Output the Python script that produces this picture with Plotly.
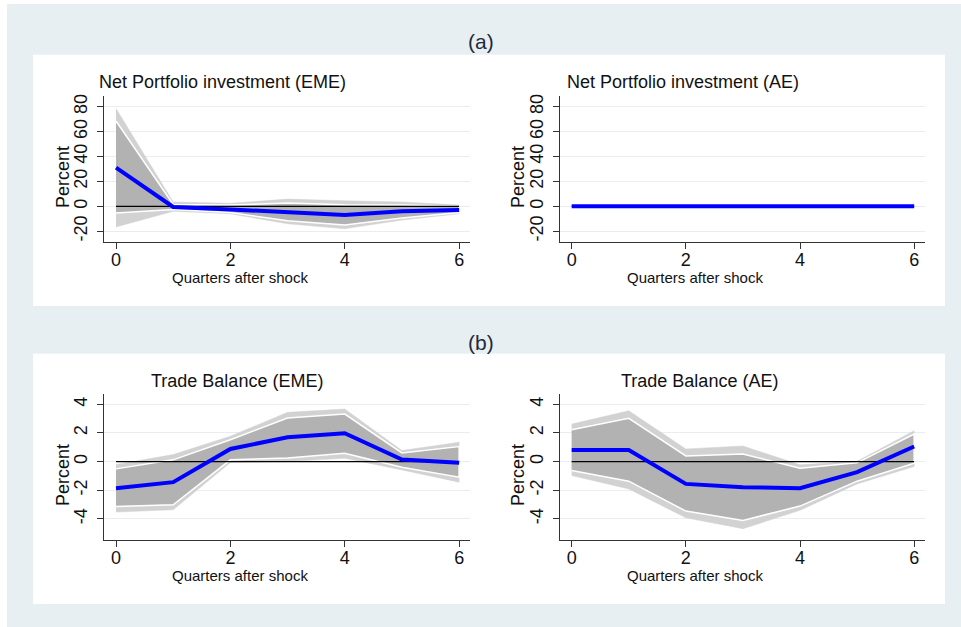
import plotly.graph_objects as go

W, H = 961, 627

quarters = [0, 1, 2, 3, 4, 5, 6]

# Net portfolio investment, emerging market economies
npi_eme_irf = [31.0, -0.5, -2.5, -4.5, -7.0, -4.0, -3.0]
npi_eme_hi_inner = [68.5, 1.5, 1.0, 2.7, 1.3, 1.0, 0.0]
npi_eme_lo_inner = [-5.3, -2.5, -5.0, -11.5, -15.0, -9.3, -5.0]
npi_eme_hi_outer = [78.5, 3.5, 2.5, 5.8, 4.5, 3.5, 1.0]
npi_eme_lo_outer = [-16.5, -4.0, -6.0, -14.0, -18.0, -11.0, -6.0]

# Net portfolio investment, advanced economies
npi_ae_irf = [0.0, 0.0, 0.0, 0.0, 0.0, 0.0, 0.0]
npi_ae_hi_inner = [0.0, 0.0, 0.0, 0.0, 0.0, 0.0, 0.0]
npi_ae_lo_inner = [0.0, 0.0, 0.0, 0.0, 0.0, 0.0, 0.0]
npi_ae_hi_outer = [0.0, 0.0, 0.0, 0.0, 0.0, 0.0, 0.0]
npi_ae_lo_outer = [0.0, 0.0, 0.0, 0.0, 0.0, 0.0, 0.0]

# Trade balance, emerging market economies
tb_eme_irf = [-1.86, -1.44, 0.88, 1.70, 1.98, 0.14, -0.09]
tb_eme_hi_inner = [-0.51, 0.12, 1.53, 3.04, 3.32, 0.60, 1.05]
tb_eme_lo_inner = [-3.14, -3.02, 0.12, 0.25, 0.58, -0.39, -1.09]
tb_eme_hi_outer = [-0.21, 0.49, 1.77, 3.44, 3.67, 0.77, 1.35]
tb_eme_lo_outer = [-3.53, -3.37, -0.07, 0.00, 0.23, -0.58, -1.44]

# Trade balance, advanced economies
tb_ae_irf = [0.81, 0.81, -1.56, -1.79, -1.86, -0.74, 1.05]
tb_ae_hi_inner = [2.23, 3.02, 0.39, 0.53, -0.46, -0.09, 1.93]
tb_ae_lo_inner = [-0.63, -1.37, -3.46, -4.11, -3.11, -1.37, -0.12]
tb_ae_hi_outer = [2.62, 3.55, 0.88, 1.09, -0.23, 0.02, 2.16]
tb_ae_lo_outer = [-0.98, -1.91, -3.93, -4.69, -3.41, -1.56, -0.35]

npi_ticks = [-20, 0, 20, 40, 60, 80]
npi_tick_text = ["-20", "0", "20", "40", "60", "80"]
tb_ticks = [-4, -2, 0, 2, 4]
tb_tick_text = ["-4", "-2", "0", "2", "4"]
x_ticks = [0, 2, 4, 6]
x_tick_text = ["0", "2", "4", "6"]

panel_titles = [
    "Net Portfolio investment (EME)",
    "Net Portfolio investment (AE)",
    "Trade Balance (EME)",
    "Trade Balance (AE)",
]
section_labels = ["(a)", "(b)"]
x_title = "Quarters after shock"
y_title = "Percent"

FONT = "Liberation Sans, Arial, sans-serif"
LIGHT = "#d2d2d2"
DARK = "#b2b2b2"
BLUE = "#0000ff"
GRID = "#e6eef1"
BG = "#e8eff2"


def px_x(p):
    return p / W


def px_y(p):
    return 1 - p / H


# panel geometry in pixels
panels = [
    dict(x=(104.3, 470), y=(94, 241), title_c=222, title_y=80, xt_c=240, yt_x=63,
         yrange=[-28.8, 88.8], yticks=npi_ticks, ytext=npi_tick_text),
    dict(x=(560, 925), y=(94, 241), title_c=683, title_y=80, xt_c=695, yt_x=518,
         yrange=[-28.8, 88.8], yticks=npi_ticks, ytext=npi_tick_text),
    dict(x=(104.3, 470), y=(393, 540), title_c=237, title_y=380, xt_c=240, yt_x=63,
         yrange=[-5.5, 4.74], yticks=tb_ticks, ytext=tb_tick_text),
    dict(x=(560, 925), y=(393, 540), title_c=699, title_y=380, xt_c=695, yt_x=518,
         yrange=[-5.5, 4.74], yticks=tb_ticks, ytext=tb_tick_text),
]

series = [
    (npi_eme_irf, npi_eme_hi_inner, npi_eme_lo_inner, npi_eme_hi_outer, npi_eme_lo_outer),
    (npi_ae_irf, npi_ae_hi_inner, npi_ae_lo_inner, npi_ae_hi_outer, npi_ae_lo_outer),
    (tb_eme_irf, tb_eme_hi_inner, tb_eme_lo_inner, tb_eme_hi_outer, tb_eme_lo_outer),
    (tb_ae_irf, tb_ae_hi_inner, tb_ae_lo_inner, tb_ae_hi_outer, tb_ae_lo_outer),
]

fig = go.Figure()
layout_axes = {}
annotations = []

for i, (p, s) in enumerate(zip(panels, series)):
    n = i + 1
    xa = "x" if n == 1 else f"x{n}"
    ya = "y" if n == 1 else f"y{n}"
    irf, hi_in, lo_in, hi_out, lo_out = s
    poly_x = quarters + quarters[::-1]

    # outer confidence band
    fig.add_trace(go.Scatter(
        x=poly_x, y=hi_out + lo_out[::-1], fill="toself", fillcolor=LIGHT,
        line=dict(color=LIGHT, width=0.5), mode="lines", xaxis=xa, yaxis=ya,
        hoverinfo="skip", showlegend=False))
    # inner confidence band with white outline
    fig.add_trace(go.Scatter(
        x=poly_x, y=hi_in + lo_in[::-1], fill="toself", fillcolor=DARK,
        line=dict(color="white", width=1.5), mode="lines", xaxis=xa, yaxis=ya,
        hoverinfo="skip", showlegend=False))
    # zero reference line
    fig.add_trace(go.Scatter(
        x=[quarters[0], quarters[-1]], y=[0, 0], mode="lines",
        line=dict(color="black", width=1.2), xaxis=xa, yaxis=ya,
        hoverinfo="skip", showlegend=False))
    # impulse response
    fig.add_trace(go.Scatter(
        x=quarters, y=irf, mode="lines", line=dict(color=BLUE, width=4),
        xaxis=xa, yaxis=ya, hoverinfo="skip", showlegend=False))

    xkey = "xaxis" if n == 1 else f"xaxis{n}"
    ykey = "yaxis" if n == 1 else f"yaxis{n}"
    layout_axes[xkey] = dict(
        domain=[px_x(p["x"][0]), px_x(p["x"][1])], range=[-0.205, 6.19],
        anchor=ya, tickvals=x_ticks, ticktext=x_tick_text, ticks="outside", ticklen=6,
        tickcolor="#333", showline=True, linecolor="#333", linewidth=1.2,
        showgrid=False, zeroline=False, ticklabelstandoff=-5,
        tickfont=dict(size=18, color="#111", family=FONT),
    )
    layout_axes[ykey] = dict(
        domain=[px_y(p["y"][1]), px_y(p["y"][0])], range=p["yrange"],
        anchor=xa, tickvals=p["yticks"], ticktext=p["ytext"], ticks="outside", ticklen=6,
        tickcolor="#333", showline=True, linecolor="#333", linewidth=1.2,
        showgrid=True, gridcolor=GRID, gridwidth=1, zeroline=False,
        ticklabelstandoff=3,
        tickangle=-90, tickfont=dict(size=18, color="#111", family=FONT),
    )

    annotations.append(dict(
        text=panel_titles[i], x=px_x(p["title_c"]), y=px_y(p["title_y"]),
        xref="paper", yref="paper", showarrow=False, xanchor="center", yanchor="middle",
        font=dict(size=18, color="#111", family=FONT)))
    annotations.append(dict(
        text=x_title, x=px_x(p["xt_c"]), y=px_y(p["y"][1] + 35),
        xref="paper", yref="paper", showarrow=False, xanchor="center", yanchor="middle",
        font=dict(size=15, color="#111", family=FONT)))
    annotations.append(dict(
        text=y_title, x=px_x(p["yt_x"]), y=px_y((p["y"][0] + p["y"][1]) / 2 + 8),
        xref="paper", yref="paper", showarrow=False, xanchor="center", yanchor="middle",
        textangle=-90, font=dict(size=18, color="#111", family=FONT)))

for lab, yc in zip(section_labels, [40, 342]):
    annotations.append(dict(
        text=lab, x=px_x(481), y=px_y(yc), xref="paper", yref="paper",
        showarrow=False, xanchor="center", yanchor="middle",
        font=dict(size=21, color="#1e2b3c", family=FONT)))

shapes = [
    dict(type="rect", xref="paper", yref="paper", x0=px_x(7), x1=1, y0=0, y1=px_y(2),
         fillcolor=BG, line=dict(width=0), layer="below"),
    dict(type="rect", xref="paper", yref="paper", x0=px_x(33), x1=px_x(945),
         y0=px_y(305), y1=px_y(53), fillcolor="white", line=dict(width=0), layer="below"),
    dict(type="rect", xref="paper", yref="paper", x0=px_x(33), x1=px_x(945),
         y0=px_y(604), y1=px_y(353), fillcolor="white", line=dict(width=0), layer="below"),
]

fig.update_layout(
    width=W, height=H, margin=dict(l=0, r=0, t=0, b=0),
    paper_bgcolor="white", plot_bgcolor="rgba(0,0,0,0)",
    font=dict(family=FONT, color="#111"),
    annotations=annotations, shapes=shapes, showlegend=False,
    **layout_axes,
)

fig.write_html("out.html")
